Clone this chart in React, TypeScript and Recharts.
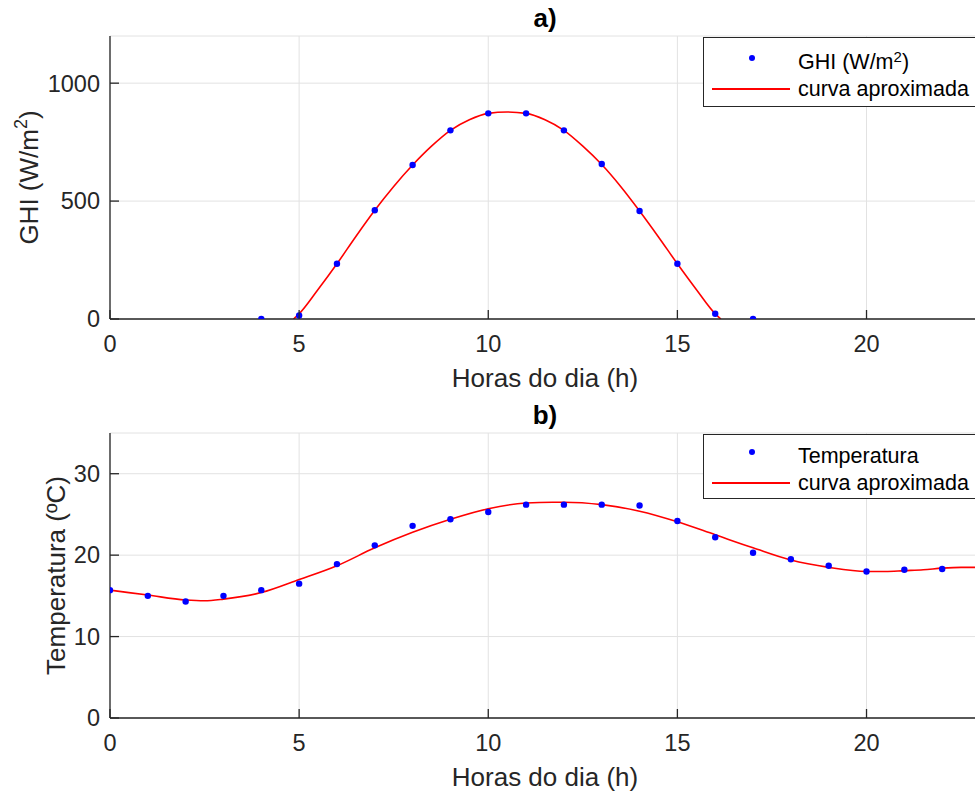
import React from 'react';
import { LineChart, Line, XAxis, YAxis, CartesianGrid, Legend } from 'recharts';

// hourly measurements
const ghiHours = [4, 5, 6, 7, 8, 9, 10, 11, 12, 13, 14, 15, 16, 17];
const ghiValues = [0, 15, 234, 461, 653, 800, 872, 872, 800, 657, 458, 234, 22, 0];

// fitted curve
const ghiFitHours = [4.85, 5, 5.5, 6, 6.5, 7, 7.5, 8, 8.5, 9, 9.5, 10, 10.5, 11, 11.5, 12, 12.5, 13, 13.5, 14, 14.5, 15, 15.5, 16, 16.15];
const ghiFitValues = [0, 22, 125, 234, 350, 461, 562, 653, 733, 800, 845, 872, 878, 872, 845, 800, 733, 655, 562, 458, 348, 234, 125, 22, 0];

const tempHours = [0, 1, 2, 3, 4, 5, 6, 7, 8, 9, 10, 11, 12, 13, 14, 15, 16, 17, 18, 19, 20, 21, 22];
const tempValues = [15.7, 15.0, 14.3, 15.0, 15.7, 16.5, 18.9, 21.2, 23.6, 24.4, 25.3, 26.2, 26.2, 26.2, 26.1, 24.2, 22.2, 20.3, 19.5, 18.7, 18.0, 18.2, 18.3];

const tempFitHours = [0, 1, 2, 2.5, 3, 4, 5, 6, 7, 8, 9, 10, 11, 11.7, 12, 13, 14, 15, 16, 17, 18, 19, 20, 20.5, 21, 21.5, 22, 22.5, 23];
const tempFitValues = [15.7, 15.1, 14.5, 14.4, 14.6, 15.4, 17.0, 18.7, 20.9, 22.8, 24.4, 25.7, 26.4, 26.5, 26.5, 26.2, 25.4, 24.1, 22.5, 20.9, 19.4, 18.5, 18.0, 18.0, 18.1, 18.2, 18.4, 18.5, 18.5];

const xTicks = [0, 5, 10, 15, 20];
const ghiTicks = [0, 500, 1000];
const tempTicks = [0, 10, 20, 30];

const ghiPoints = ghiHours.map((h, i) => ({ h, v: ghiValues[i] }));
const ghiFit = ghiFitHours.map((h, i) => ({ h, v: ghiFitValues[i] }));
const tempPoints = tempHours.map((h, i) => ({ h, v: tempValues[i] }));
const tempFit = tempFitHours.map((h, i) => ({ h, v: tempFitValues[i] }));

const FONT = '"Liberation Sans", Arial, Helvetica, sans-serif';
const INK = '#262626';
const GRID = '#e2e2e2';
const TICK_LEN = 9;
const X_GAP = 16;
const Y_GAP = 10;

// ticks point inwards (matlab style), so draw the little line in the tick itself
const BottomTick = (props: any) => {
  const { x, y, payload } = props;
  const axisY = y - X_GAP;
  return (
    <g>
      <line x1={x} x2={x} y1={axisY} y2={axisY - TICK_LEN} stroke={INK} strokeWidth={1.3} />
      <text x={x} y={y} dy="0.71em" textAnchor="middle" fontSize={23.5} fill={INK} fontFamily={FONT}>
        {payload.value}
      </text>
    </g>
  );
};

const TopTick = (props: any) => {
  const { x, y } = props;
  return <line x1={x} x2={x} y1={y} y2={y + TICK_LEN} stroke={INK} strokeWidth={1.3} />;
};

const LeftTick = (props: any) => {
  const { x, y, payload } = props;
  const axisX = x + Y_GAP;
  return (
    <g>
      <line x1={axisX} x2={axisX + TICK_LEN} y1={y} y2={y} stroke={INK} strokeWidth={1.3} />
      <text x={x} y={y} dy="0.355em" textAnchor="end" fontSize={23.5} fill={INK} fontFamily={FONT}>
        {payload.value}
      </text>
    </g>
  );
};

const XLabel = (props: any) => {
  const vb = props.viewBox;
  return (
    <text x={vb.x + vb.width / 2} y={vb.y + 68} textAnchor="middle" fontSize={26} fill={INK} fontFamily={FONT}>
      Horas do dia (h)
    </text>
  );
};

const Title = ({ y, text }: { y: number; text: string }) => (
  <text x={545} y={y - 9} textAnchor="middle" fontSize={26} fontWeight="bold" fill="#000" fontFamily={FONT}>
    {text}
  </text>
);

const GhiLabel = (props: any) => {
  const vb = props.viewBox;
  const cx = 38;
  const cy = vb.y + vb.height / 2;
  return (
    <g>
      <Title y={vb.y} text="a)" />
      <text x={cx} y={cy} transform={`rotate(-90, ${cx}, ${cy})`} textAnchor="middle" fontSize={26} fill={INK} fontFamily={FONT}>
        GHI (W/m<tspan dy={-11} fontSize={18}>2</tspan><tspan dy={11}>)</tspan>
      </text>
    </g>
  );
};

const TempLabel = (props: any) => {
  const vb = props.viewBox;
  const cx = 65;
  const cy = vb.y + vb.height / 2;
  return (
    <g>
      <Title y={vb.y} text="b)" />
      <text x={cx} y={cy} transform={`rotate(-90, ${cx}, ${cy})`} textAnchor="middle" fontSize={26} fill={INK} fontFamily={FONT}>
        Temperatura (ºC)
      </text>
    </g>
  );
};

const LegendBox = ({ label, height, dotY, lineY }: { label: React.ReactNode; height: number; dotY: number; lineY: number }) => (
  <div
    style={{
      position: 'relative',
      width: 290,
      height,
      boxSizing: 'border-box',
      border: `1px solid ${INK}`,
      background: '#fff',
      fontFamily: FONT,
      fontSize: 21.5,
      color: '#000',
    }}
  >
    <div style={{ position: 'absolute', left: 45, top: dotY - 4, width: 6, height: 6, borderRadius: 3, background: '#0000ff' }} />
    <div style={{ position: 'absolute', left: 94, top: dotY - 10, lineHeight: '26px', whiteSpace: 'nowrap' }}>{label}</div>
    <div style={{ position: 'absolute', left: 8, top: lineY - 1, width: 78, height: 2, background: '#ff0000' }} />
    <div style={{ position: 'absolute', left: 94, top: lineY - 13, lineHeight: '26px', whiteSpace: 'nowrap' }}>curva aproximada</div>
  </div>
);

const Panel = ({ points, fit, yDomain, yTicks, yLabel, legend, height, marginBottom }: any) => (
  <LineChart width={1000} height={height} margin={{ top: 36, right: 20, bottom: marginBottom, left: 50 }}>
    <CartesianGrid stroke={GRID} strokeWidth={1} />
    <XAxis
      dataKey="h"
      type="number"
      domain={[0, 23]}
      ticks={xTicks}
      allowDataOverflow
      height={60}
      tickSize={0}
      tickMargin={X_GAP}
      tick={BottomTick}
      tickLine={false}
      axisLine={{ stroke: INK, strokeWidth: 1.3 }}
      label={XLabel}
    />
    <XAxis
      xAxisId="top"
      orientation="top"
      dataKey="h"
      type="number"
      domain={[0, 23]}
      ticks={xTicks}
      allowDataOverflow
      height={0}
      tickSize={0}
      tickMargin={0}
      tick={TopTick}
      tickLine={false}
      axisLine={{ stroke: INK, strokeWidth: 1.3 }}
    />
    <YAxis
      dataKey="v"
      type="number"
      domain={yDomain}
      ticks={yTicks}
      allowDataOverflow
      width={60}
      tickSize={0}
      tickMargin={Y_GAP}
      tick={LeftTick}
      tickLine={false}
      axisLine={{ stroke: INK, strokeWidth: 1.3 }}
      label={yLabel}
    />
    <Legend
      layout="vertical"
      align="center"
      verticalAlign="middle"
      wrapperStyle={{ left: 703, top: 37, width: 290 }}
      content={() => legend}
    />
    <Line
      data={fit}
      dataKey="v"
      type="monotone"
      stroke="#ff0000"
      strokeWidth={1.6}
      dot={false}
      activeDot={false}
      isAnimationActive={false}
    />
    <Line
      data={points}
      dataKey="v"
      stroke="none"
      dot={{ r: 3.2, fill: '#0000ff', stroke: 'none' }}
      activeDot={false}
      isAnimationActive={false}
    />
  </LineChart>
);

export default function App() {
  return (
    <div style={{ position: 'absolute', left: 0, top: 0, width: 975, height: 794, overflow: 'hidden', background: '#fff' }}>
      <div style={{ position: 'absolute', left: 0, top: 0 }}>
        <Panel
          points={ghiPoints}
          fit={ghiFit}
          yDomain={[0, 1200]}
          yTicks={ghiTicks}
          yLabel={GhiLabel}
          height={400}
          marginBottom={21}
          legend={
            <LegendBox
              height={70}
              dotY={21}
              lineY={51}
              label={
                <span>
                  GHI (W/m<sup style={{ fontSize: 15, verticalAlign: 'top', position: 'relative', top: -5 }}>2</sup>)
                </span>
              }
            />
          }
        />
      </div>
      <div style={{ position: 'absolute', left: 0, top: 397 }}>
        <Panel
          points={tempPoints}
          fit={tempFit}
          yDomain={[0, 35]}
          yTicks={tempTicks}
          yLabel={TempLabel}
          height={397}
          marginBottom={16}
          legend={<LegendBox height={65} dotY={18} lineY={48} label="Temperatura" />}
        />
      </div>
    </div>
  );
}
